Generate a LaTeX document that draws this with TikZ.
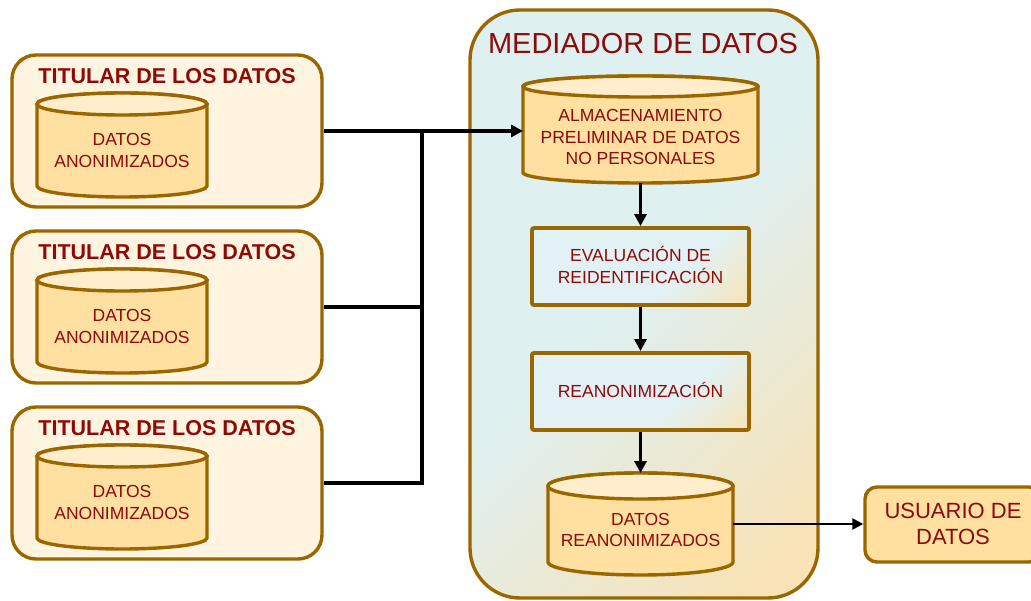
\documentclass[tikz,border=0pt]{standalone}
\usepackage{fontspec}
\setmainfont{Liberation Sans}
\usetikzlibrary{arrows.meta,calc}
\definecolor{bord}{RGB}{153,102,0}
\definecolor{txtred}{RGB}{140,10,10}
\definecolor{titfill}{RGB}{255,244,224}
\definecolor{cylbody}{RGB}{255,224,160}
\definecolor{cyltop}{RGB}{255,237,204}
\definecolor{blueM}{RGB}{222,240,240}
\definecolor{beigeM}{RGB}{248,226,182}
\definecolor{blueB}{RGB}{226,241,243}
\definecolor{beigeB}{RGB}{253,224,168}
\pgfdeclareverticalshading{medshade}{100bp}{color(0bp)=(beigeM); color(20bp)=(beigeM); color(52bp)=(blueM); color(100bp)=(blueM)}
\pgfdeclareverticalshading{boxshade}{100bp}{color(0bp)=(beigeB); color(8bp)=(beigeB); color(38bp)=(blueB); color(100bp)=(blueB)}
\tikzset{
  titbox/.style={draw=bord, line width=3.4pt, fill=titfill, rounded corners=24pt,
    minimum width=310pt, minimum height=152pt, inner sep=0pt},
  tittext/.style={text=txtred, font=\bfseries\fontsize{21.5}{26}\selectfont, inner sep=0pt},
  cylanchor/.style={inner sep=0pt, outer sep=0pt},
  cylline/.style={draw=bord, line width=3.4pt},
  smalltext/.style={text=txtred, align=center, inner sep=0pt,
    font=\fontsize{17.5}{21.5}\selectfont},
  medbox/.style={draw=bord, line width=3.4pt, rounded corners=50pt, shade, shading=medshade,
    shading angle=45, minimum width=348pt, minimum height=588pt, inner sep=0pt},
  medtitle/.style={text=txtred, font=\fontsize{29}{34}\selectfont, inner sep=0pt},
  procbox/.style={draw=bord, line width=3.8pt, rounded corners=2pt, shade, shading=boxshade,
    shading angle=45, minimum width=217pt, minimum height=77pt, inner sep=0pt},
  userbox/.style={draw=bord, line width=3.4pt, fill=cylbody, rounded corners=12pt,
    minimum width=176pt, minimum height=75pt, inner sep=0pt},
  usertext/.style={text=txtred, align=center, inner sep=0pt,
    font=\fontsize{22}{26.5}\selectfont},
  conn/.style={line width=3.2pt, draw=black},
  arr/.style={conn, -{Triangle[length=12pt,width=12pt]}},
}
\newcommand\drawcyl[6]{%
  \node[cylanchor, minimum width=#4pt, minimum height=#5pt] (#1) at (#2,#3) {};
  \path[cylline, fill=cylbody] ([yshift=-#6pt]#1.north west) -- ([yshift=#6pt]#1.south west)
    arc[start angle=180, end angle=360, x radius={#4pt/2}, y radius=#6pt]
    -- ([yshift=-#6pt]#1.north east)
    arc[start angle=0, end angle=180, x radius={#4pt/2}, y radius=#6pt] -- cycle;
  \path[cylline, fill=cyltop] ([yshift=-#6pt]#1.north) ellipse[x radius={#4pt/2}, y radius=#6pt];
}
\begin{document}
\begin{tikzpicture}[x=1pt,y=-1pt]
\clip (0,0) rectangle (1031,601);
\fill[white] (0,0) rectangle (1031,601);

% Titular boxes
\node[titbox] (t1) at (167,131) {};
\node[tittext] (t1title) at (167,76) {TITULAR DE LOS DATOS};
\drawcyl{c1a}{122}{145}{170}{104}{11}
\node[smalltext] (c1at) at (122,150.5) {DATOS\\ANONIMIZADOS};

\node[titbox] (t2) at (167,307) {};
\node[tittext] (t2title) at (167,252) {TITULAR DE LOS DATOS};
\drawcyl{c2a}{122}{321}{170}{104}{11}
\node[smalltext] (c2at) at (122,326.5) {DATOS\\ANONIMIZADOS};

\node[titbox] (t3) at (167,483) {};
\node[tittext] (t3title) at (167,428) {TITULAR DE LOS DATOS};
\drawcyl{c3a}{122}{497}{170}{104}{11}
\node[smalltext] (c3at) at (122,502.5) {DATOS\\ANONIMIZADOS};

% Mediator
\node[medbox] (med) at (644,304) {};
\node[medtitle] (medtitle) at (643,44) {MEDIADOR DE DATOS};
\drawcyl{store}{640.5}{129.5}{235}{107}{10.5}
\node[smalltext] (storet) at (640.5,137) {ALMACENAMIENTO\\PRELIMINAR DE DATOS\\NO PERSONALES};
\node[procbox] (eval) at (640.5,266.5) {};
\node[smalltext] (evalt) at (640.5,265) {EVALUACIÓN DE\\REIDENTIFICACIÓN};
\node[procbox] (reano) at (640.5,391.5) {};
\node[smalltext] (reanot) at (640.5,390) {REANONIMIZACIÓN};
\drawcyl{out}{640.5}{524}{185}{102}{13}
\node[smalltext] (outt) at (640.5,530) {DATOS\\REANONIMIZADOS};

% User
\node[userbox] (user) at (953,524.5) {};
\node[usertext] (usert) at (953,524) {USUARIO DE\\DATOS};

% Connectors
\coordinate (jtop) at (422,131);
\draw[conn] (t2.east) -| (jtop);
\draw[conn] (t3.east) -| (jtop);
\draw[arr] (t1.east) -- (t1.east -| store.west);
\draw[arr] (store.south) -- (eval.north);
\draw[arr] (eval.south) -- (reano.north);
\draw[arr] (reano.south) -- (out.north);
\draw[conn, line width=2.4pt, -{Triangle[length=11pt,width=11pt]}] (out.east) -- (out.east -| user.west);
\end{tikzpicture}
\end{document}
